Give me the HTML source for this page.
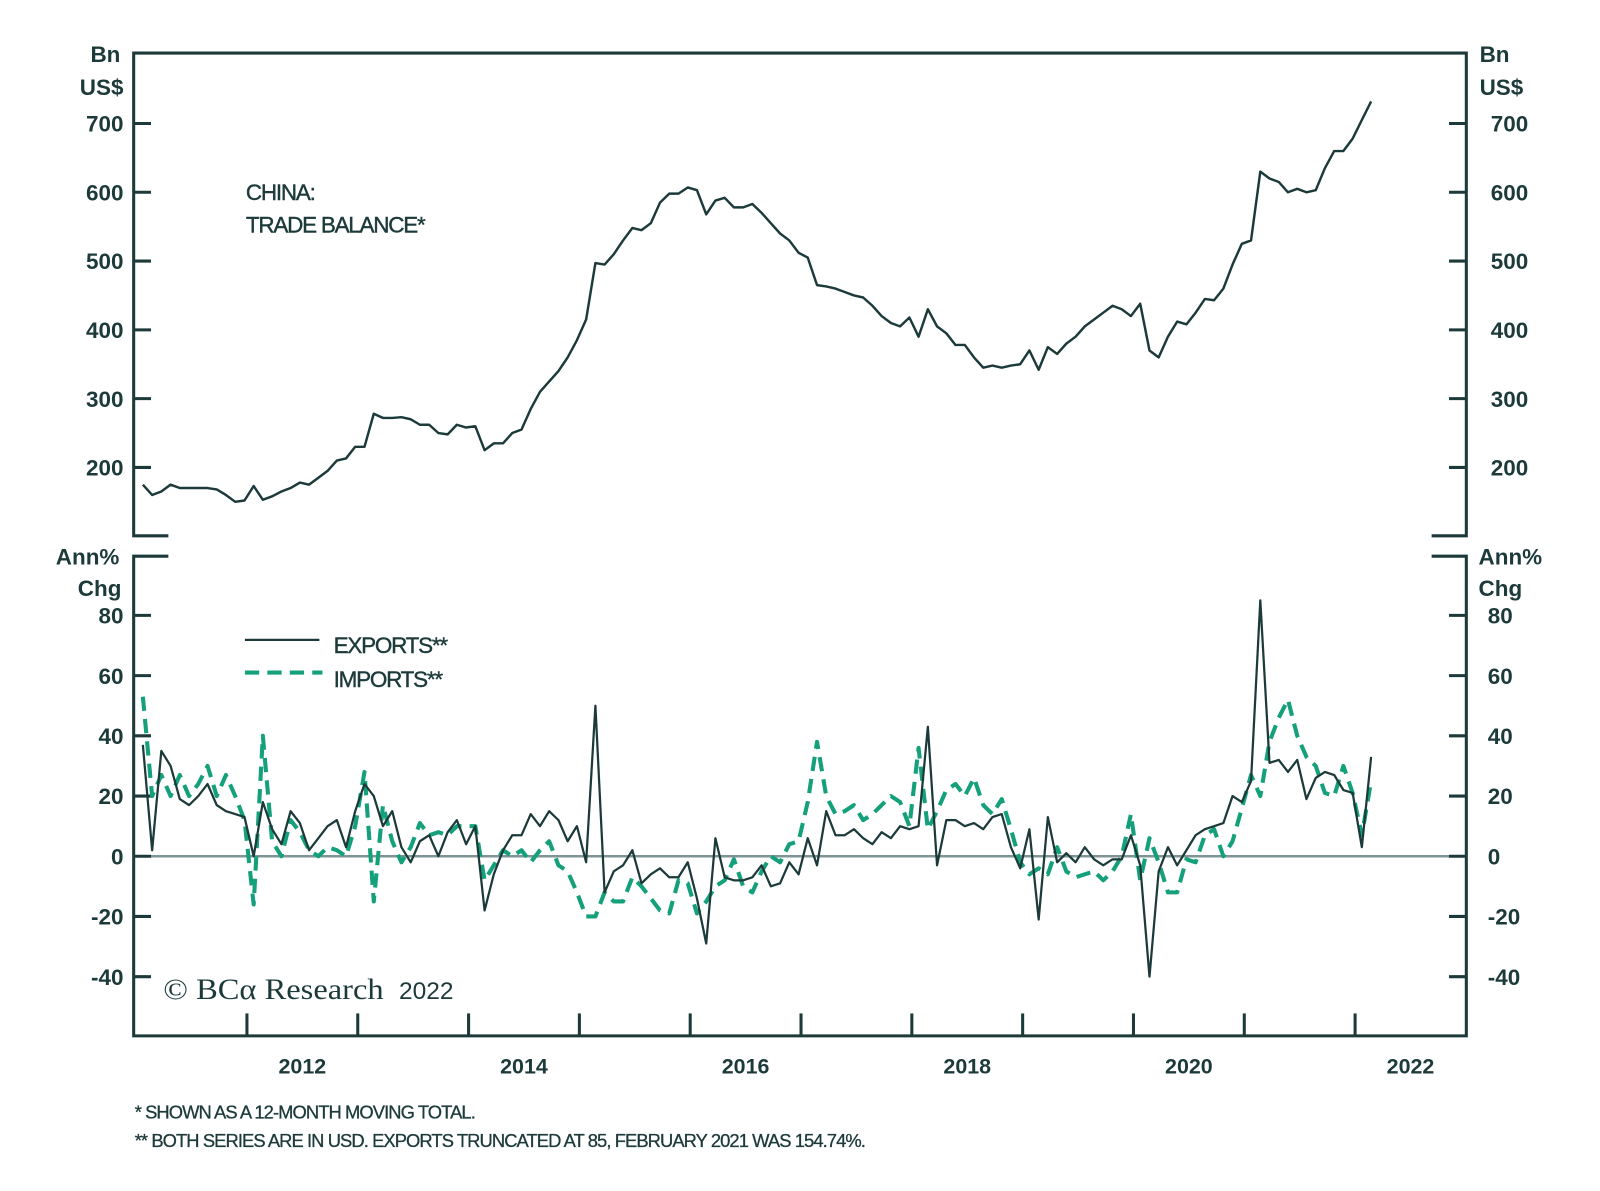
<!DOCTYPE html>
<html><head><meta charset="utf-8"><style>
html,body{margin:0;padding:0;background:#fff;}
svg{display:block;}
text{font-family:"Liberation Sans",sans-serif;fill:#1d3a3a;}
text.serif{font-family:"Liberation Serif",serif;}
</style></head><body>
<svg id="chart" width="1600" height="1191" viewBox="0 0 1568 1167" preserveAspectRatio="none" xmlns="http://www.w3.org/2000/svg"></svg>
<script>
const balance = [175,160,165,175,170,170,170,170,168,160,150,152,
173,153,158,165,170,178,175,185,195,210,213,230,
230,278,272,272,273,270,262,262,250,248,262,258,
260,225,235,235,250,255,285,310,325,340,360,385,
415,497,495,510,530,548,545,555,585,598,598,607,
603,568,588,592,578,578,583,570,555,540,530,512,
505,465,463,460,455,450,447,435,420,410,405,418,
390,430,405,395,378,378,360,345,348,345,348,350,
370,342,375,365,380,390,405,415,425,435,430,420,
438,370,360,390,412,408,425,445,443,460,495,525,
530,630,620,615,600,605,600,603,635,660,660,678,
705,732];
const exportsYoY = [37,2,35,30,19,17,20,24,17,15,14,13,
0,18,9,4,15,11,2,6,10,12,3,15,
24,20,10,15,3,-2,5,7,0,8,12,4,
10,-18,-6,2,7,7,14,10,15,12,5,10,
-2,50,-12,-5,
-3,2,-9,-6,-4,-7,-7,-2,-14,-29,6,-7,-8,-8,-7,-3,-10,-9,-2,-6,6,-3,15,7,7,9,6,4,8,6,10,9,10,43,-3,12,12,10,11,9,13,14,3,-4,9,-21,13,-2,1,-2,3,-1,-3,-1,
-1,7,-3,-40,-5,3,-3,2,7,9,10,11,20,18,25,85,31,32,28,32,19,26,28,27,22,21,3,33];
const importsYoY = [53,20,27,20,27,20,24,30,20,27,20,12,
-16,40,5,0,12,8,2,0,3,2,0,10,
28,-15,17,5,-2,3,11,7,8,7,10,10,
10,-8,-3,2,0,2,-2,2,5,-3,-5,-12,
-20,-20,-12,-15,
-15,-7,-10,-14,-18,-19,-8,-9,-19,-15,-10,-8,-1,-10,-12,-5,0,-2,4,5,18,38,20,14,15,17,12,14,17,20,18,10,36,9,15,22,24,20,26,17,14,19,9,-2,-6,-4,-6,3,-5,-7,-6,-5,-8,-5,
0,14,-8,6,-2,-12,-12,-1,-2,7,9,0,5,16,27,20,38,46,52,40,33,30,21,20,30,21,7,25];
const topTicks = [200,300,400,500,600,700];
const bottomTicks = [-40,-20,0,20,40,60,80];
const yearLabels = [2012,2014,2016,2018,2020,2022];
const yearTicks = [2012,2013,2014,2015,2016,2017,2018,2019,2020,2021,2022];

const NS="http://www.w3.org/2000/svg";
const svg=document.getElementById('chart');
const DARK="#1d3a3a", GREEN="#14a07a";
function el(tag,attrs,parent){const e=document.createElementNS(NS,tag);for(const k in attrs)e.setAttribute(k,attrs[k]);(parent||svg).appendChild(e);return e;}
const L=131,R=1437;
const xYear=y=>242+(y-2012)*108.6;
const xIdx=i=>140+i*9.05;
const yTop=v=>458-(v-200)*0.674;
const yBot=v=>839-v*2.95;

let f=el('path',{d:`M${L+34},525 H${L} V52 H${R} V525 H${R-34}`,fill:'none',stroke:DARK,'stroke-width':3});


f=el('path',{d:`M${L+34},545 H${L} V1015 H${R} V545 H${R-34}`,fill:'none',stroke:DARK,'stroke-width':3});


let z=el('line',{x1:L,x2:R,y1:yBot(0),y2:yBot(0),stroke:'#7f9494','stroke-width':2.5});



function txt(s,x,y,anchor,size,name,extra){const t=el('text',Object.assign({x:x,y:y,'text-anchor':anchor,'font-size':size,'font-weight':'bold'},extra||{}));t.textContent=s;


return t;}

topTicks.forEach(v=>{const y=yTop(v);
const a=el('line',{x1:L,x2:L+17,y1:y,y2:y,stroke:DARK,'stroke-width':3});


const b=el('line',{x1:R-17,x2:R,y1:y,y2:y,stroke:DARK,'stroke-width':3});


txt(String(v),121,y+8,'end',22,'left-top-tick-label');
txt(String(v),1461,y+8,'start',22,'right-top-tick-label');});
bottomTicks.forEach(v=>{const y=yBot(v);
const a=el('line',{x1:L,x2:L+17,y1:y,y2:y,stroke:DARK,'stroke-width':3});


const b=el('line',{x1:R-17,x2:R,y1:y,y2:y,stroke:DARK,'stroke-width':3});


txt(String(v),121,y+8,'end',22,'left-bottom-tick-label');
txt(String(v),1458,y+8,'start',22,'right-bottom-tick-label');});
yearTicks.forEach(yr=>{const x=xYear(yr);
const t=el('line',{x1:x,x2:x,y1:993,y2:1015,stroke:DARK,'stroke-width':3});

});
yearLabels.forEach(yr=>{txt(String(yr),xYear(yr)+54.3,1052,'middle',21,'x-year-label');});

txt('Bn',118,61,'end',22,'left-unit-bn');
txt('US$',121,93,'end',22,'left-unit-usd');
txt('Bn',1450,61,'start',22,'right-unit-bn');
txt('US$',1450,93,'start',22,'right-unit-usd');
txt('Ann%',117,553,'end',22,'left-unit-ann');
txt('Chg',119,584,'end',22,'left-unit-chg');
txt('Ann%',1449,553,'start',22,'right-unit-ann');
txt('Chg',1449,584,'start',22,'right-unit-chg');

txt('CHINA:',241,196,'start',22,'chart-title-line1',{'letter-spacing':'-1.2','stroke':DARK,'stroke-width':'0.4','font-weight':'normal'});
txt('TRADE BALANCE*',241,228,'start',22,'chart-title-line2',{'letter-spacing':'-1.2','stroke':DARK,'stroke-width':'0.4','font-weight':'normal'});

function linePath(arr,yf){return arr.map((v,i)=>(i?'L':'M')+xIdx(i).toFixed(1)+','+yf(v).toFixed(1)).join(' ');}
let p=el('path',{d:linePath(balance,yTop),fill:'none',stroke:DARK,'stroke-width':2.4,'stroke-linejoin':'round'});


p=el('path',{d:linePath(importsYoY,yBot),fill:'none',stroke:GREEN,'stroke-width':4,'stroke-dasharray':'14 8','stroke-linejoin':'round'});


p=el('path',{d:linePath(exportsYoY,yBot),fill:'none',stroke:DARK,'stroke-width':2.2,'stroke-linejoin':'round'});



let lg=el('line',{x1:240,x2:313,y1:627,y2:627,stroke:DARK,'stroke-width':2.2});


txt('EXPORTS**',327,640,'start',22,'legend-exports-label',{'letter-spacing':'-1.2','stroke':DARK,'stroke-width':'0.4','font-weight':'normal'});
lg=el('line',{x1:240,x2:316,y1:659,y2:659,stroke:GREEN,'stroke-width':4,'stroke-dasharray':'14 8'});


txt('IMPORTS**',327,673,'start',22,'legend-imports-label',{'letter-spacing':'-1.2','stroke':DARK,'stroke-width':'0.4','font-weight':'normal'});

const c=el('text',{x:160,y:979,'font-size':29,'class':'serif','textLength':216,'lengthAdjust':'spacingAndGlyphs'});
c.textContent='© BCα Research';


txt('2022',391,979,'start',24,'copyright-year',{'font-weight':'normal'});

txt('*  SHOWN AS A 12-MONTH MOVING TOTAL.',132,1096,'start',18,'footnote-1',{'font-weight':'normal','letter-spacing':'-0.9','stroke':DARK,'stroke-width':'0.3'});
txt('** BOTH SERIES ARE IN USD. EXPORTS TRUNCATED AT 85, FEBRUARY 2021 WAS 154.74%.',132,1124,'start',18,'footnote-2',{'font-weight':'normal','letter-spacing':'-0.9','stroke':DARK,'stroke-width':'0.3'});
</script>
</body></html>
